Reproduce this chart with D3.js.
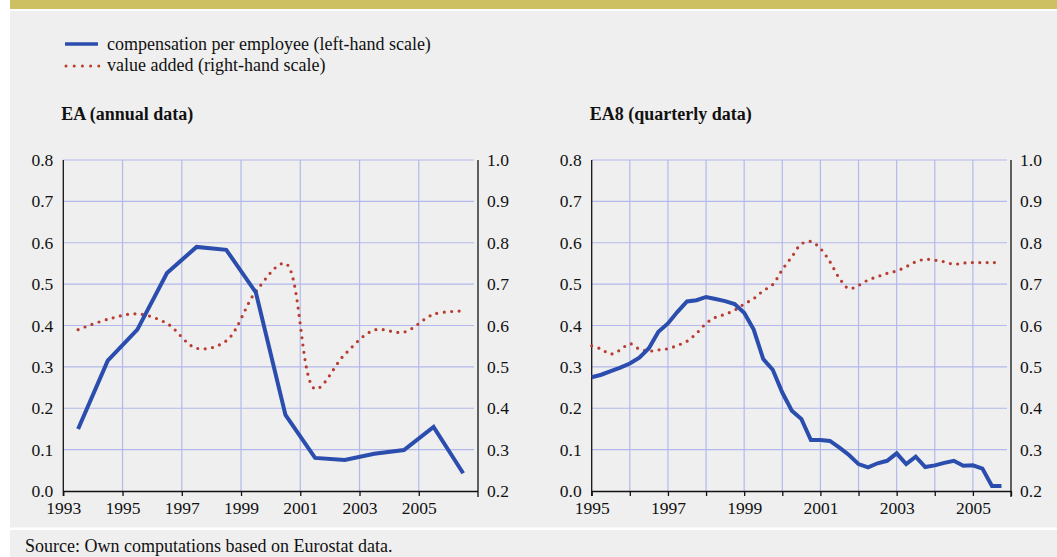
<!DOCTYPE html>
<html><head><meta charset="utf-8">
<script src="https://cdn.jsdelivr.net/npm/d3@7"></script>
<style>
html,body{margin:0;padding:0;background:#fff;}
svg{display:block;}
text{font-family:"Liberation Serif","Times New Roman",serif;fill:#111;}
</style></head>
<body>
<svg id="c" width="1057" height="557"></svg>
<script>
// ---------- data ----------
const annualYears = [1993.5,1994.5,1995.5,1996.5,1997.5,1998.5,1999.5,2000.5,2001.5,2002.5,2003.5,2004.5,2005.5,2006.5];
const annualComp  = [0.15,0.315,0.39,0.527,0.59,0.583,0.48,0.184,0.08,0.075,0.09,0.099,0.155,0.043];
const annualVA    = [0.59,0.615,0.628,0.605,0.545,0.563,0.682,0.75,0.447,0.53,0.589,0.584,0.627,0.635];

const quarterStart = 1995;
const quarterComp = [0.275,0.281,0.29,0.298,0.308,0.322,0.345,0.385,0.405,0.433,0.458,0.461,0.469,0.464,0.459,0.452,0.431,0.39,0.319,0.293,0.238,0.194,0.174,0.123,0.123,0.121,0.105,0.087,0.065,0.057,0.067,0.073,0.091,0.065,0.083,0.058,0.062,0.068,0.073,0.061,0.062,0.054,0.012,0.012];
const quarterVA   = [0.551,0.543,0.531,0.541,0.556,0.543,0.538,0.541,0.544,0.552,0.562,0.581,0.605,0.62,0.627,0.637,0.652,0.665,0.684,0.699,0.735,0.766,0.797,0.803,0.786,0.754,0.714,0.689,0.697,0.71,0.718,0.726,0.732,0.742,0.754,0.76,0.758,0.754,0.748,0.751,0.752,0.752,0.752,0.752];
const quarterYears = quarterComp.map((_, i) => quarterStart + i * 0.25);

const leftTicks  = [0,0.1,0.2,0.3,0.4,0.5,0.6,0.7,0.8];
const rightTicks = [0.2,0.3,0.4,0.5,0.6,0.7,0.8,0.9,1.0];
const annualXTicks = [1993,1995,1997,1999,2001,2003,2005];
const quarterXTicks = [1995,1996,1997,1998,1999,2000,2001,2002,2003,2004,2005,2006];
const quarterXLabels = [1995,1997,1999,2001,2003,2005];

const legendLabels = ["compensation per employee (left-hand scale)","value added (right-hand scale)"];
const panelTitles = ["EA (annual data)","EA8 (quarterly data)"];
const sourceText = "Source: Own computations based on Eurostat data.";

// ---------- styles ----------
const BLUE = "#2b4eae", RED = "#b83c30", GRID = "#b3b9ea", BG = "#efefef", GOLD = "#cdc063";
const FS = 17.5;

const svg = d3.select("#c");
svg.append("rect").attr("x",0).attr("y",0).attr("width",1057).attr("height",557).attr("fill","#fff");
svg.append("rect").attr("x",10).attr("y",0).attr("width",1047).attr("height",9).attr("fill",GOLD);
svg.append("rect").attr("x",10).attr("y",11).attr("width",1047).attr("height",516.5).attr("fill",BG);
svg.append("rect").attr("x",10).attr("y",530).attr("width",1047).attr("height",27).attr("fill",BG);

svg.append("text").attr("x",25).attr("y",552).attr("font-size",18).text(sourceText);

// legend
svg.append("line").attr("x1",65).attr("x2",98).attr("y1",44).attr("y2",44)
  .attr("stroke",BLUE).attr("stroke-width",3.5);
svg.append("line").attr("x1",66).attr("x2",99).attr("y1",66).attr("y2",66)
  .attr("stroke",RED).attr("stroke-width",3).attr("stroke-linecap","round").attr("stroke-dasharray","0 8.2");
svg.append("text").attr("x",107).attr("y",50).attr("font-size",18).text(legendLabels[0]);
svg.append("text").attr("x",107).attr("y",71).attr("font-size",18).text(legendLabels[1]);

function panel(opts){
  const {x0,x1,y0,y1,domain,xTicks,xLabels,gridX,xs,comp,va,title} = opts;
  const g = svg.append("g");
  const x = d3.scaleLinear().domain(domain).range([x0,x1]);
  const yL = d3.scaleLinear().domain([0,0.8]).range([y1,y0]);
  const yR = d3.scaleLinear().domain([0.2,1.0]).range([y1,y0]);

  g.append("text").attr("x",x0-2).attr("y",120).attr("font-size",18).attr("font-weight","bold").text(title);

  // gridlines
  g.selectAll(".gh").data(leftTicks.filter(d=>d>0)).join("line")
    .attr("x1",x0).attr("x2",x1-4).attr("y1",d=>yL(d)).attr("y2",d=>yL(d))
    .attr("stroke",GRID).attr("stroke-width",1.2);
  g.selectAll(".gv").data(gridX).join("line")
    .attr("x1",d=>x(d)).attr("x2",d=>x(d)).attr("y1",y0).attr("y2",y1)
    .attr("stroke",GRID).attr("stroke-width",1.2);

  // left axis
  const la = g.append("g").attr("transform",`translate(${x0},0)`)
    .call(d3.axisLeft(yL).tickValues(leftTicks).tickSize(0).tickPadding(10).tickFormat(d3.format(".1f")));
  la.select(".domain").remove();
  la.selectAll("text").attr("font-size",FS).attr("font-family","Liberation Serif").attr("fill","#111");
  g.append("line").attr("x1",x0).attr("x2",x0).attr("y1",y0).attr("y2",y1+5).attr("stroke","#111").attr("stroke-width",1.3);

  // right axis
  const ra = g.append("g").attr("transform",`translate(${x1},0)`)
    .call(d3.axisRight(yR).tickValues(rightTicks).tickSize(0).tickPadding(9).tickFormat(d3.format(".1f")));
  ra.select(".domain").remove();
  ra.selectAll("text").attr("font-size",FS).attr("font-family","Liberation Serif").attr("fill","#111");
  g.append("line").attr("x1",x1).attr("x2",x1).attr("y1",y0).attr("y2",y1+6).attr("stroke","#111").attr("stroke-width",1.3);

  // bottom axis
  const ba = g.append("g").attr("transform",`translate(0,${y1})`)
    .call(d3.axisBottom(x).tickValues(xTicks).tickSize(5).tickPadding(6)
      .tickFormat(d => xLabels.includes(d) ? String(d) : ""));
  ba.select(".domain").attr("stroke","#111").attr("stroke-width",1.3).attr("d",`M${x0},0.5H${x1}`);
  ba.selectAll("line").attr("stroke","#111").attr("stroke-width",1.3);
  ba.selectAll("text").attr("font-size",FS).attr("font-family","Liberation Serif").attr("fill","#111");

  // lines
  const lineB = d3.line().x((d,i)=>x(xs[i])).y(d=>yL(d));
  const lineR = d3.line().x((d,i)=>x(xs[i])).y(d=>yR(d)).curve(d3.curveCatmullRom.alpha(0.5));
  g.append("path").datum(va).attr("d",lineR).attr("fill","none").attr("stroke",RED)
    .attr("stroke-width",3.2).attr("stroke-linecap","round").attr("stroke-dasharray","0 7.4");
  g.append("path").datum(comp).attr("d",lineB).attr("fill","none").attr("stroke",BLUE)
    .attr("stroke-width",4).attr("stroke-linejoin","miter");
}

panel({x0:63.3,x1:478,y0:160,y1:491,domain:[1993,2007],
  xTicks:annualXTicks,xLabels:annualXTicks,gridX:annualXTicks.filter(d=>d>1993),
  xs:annualYears,comp:annualComp,va:annualVA,title:panelTitles[0]});
panel({x0:591.7,x1:1011,y0:160,y1:491,domain:[1995,2006],
  xTicks:quarterXTicks,xLabels:quarterXLabels,gridX:quarterXTicks.filter(d=>d>1995&&d<2006),
  xs:quarterYears,comp:quarterComp,va:quarterVA,title:panelTitles[1]});
</script>
</body></html>
